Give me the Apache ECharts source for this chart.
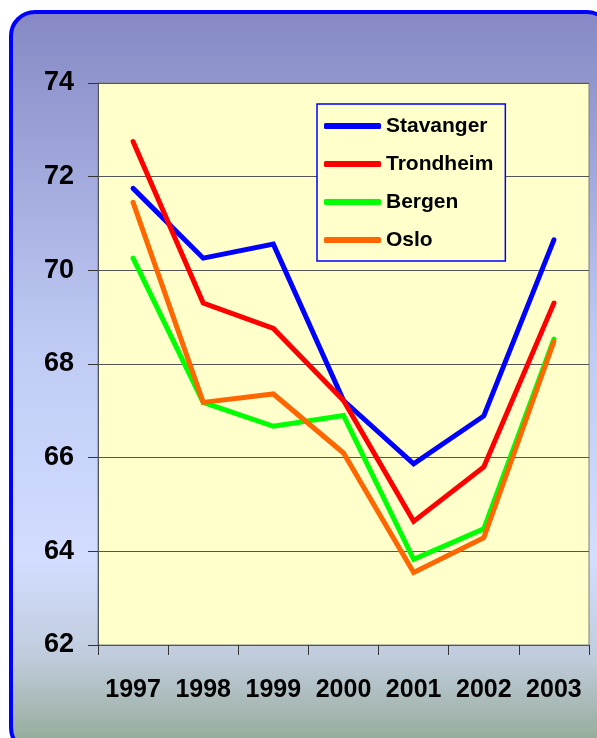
<!DOCTYPE html>
<html>
<head>
<meta charset="utf-8">
<script src="https://cdn.jsdelivr.net/npm/echarts@6/dist/echarts.min.js"></script>
<style>
  html, body { margin: 0; padding: 0; background: #ffffff; }
  #chart { width: 597px; height: 738px; }
</style>
</head>
<body>
<div id="chart"></div>
<script>
// years on x axis
var years = ['1997', '1998', '1999', '2000', '2001', '2002', '2003'];
var cities = ['Stavanger', 'Trondheim', 'Bergen', 'Oslo'];
var colors = ['#0000ff', '#ff0000', '#00ff00', '#ff6600'];

var stavanger = [71.75, 70.26, 70.56, 67.22, 65.87, 66.89, 70.65];
var trondheim = [72.75, 69.3, 68.76, 67.22, 64.64, 65.8, 69.3];
var bergen = [70.26, 67.18, 66.67, 66.9, 63.83, 64.48, 68.53];
var oslo = [71.45, 67.18, 67.36, 66.1, 63.55, 64.29, 68.48];

var yTicks = { min: 62, max: 74, step: 2 };

var font = 'Liberation Sans, Arial, sans-serif';
var myChart = echarts.init(document.getElementById('chart'));

function lineSeries(name, data, color) {
    return {
        name: name,
        type: 'line',
        data: data,
        showSymbol: false,
        symbol: 'none',
        lineStyle: { color: color, width: 5, cap: 'round', join: 'miter' },
        itemStyle: { color: color }
    };
}

myChart.setOption({
    animation: false,
    color: colors,
    graphic: [
        {
            type: 'rect',
            z: -10,
            silent: true,
            shape: { x: 11, y: 12, width: 600, height: 740, r: 24 },
            style: {
                fill: new echarts.graphic.LinearGradient(0, 0, 0, 1, [
                    { offset: 0, color: '#8588c4' },
                    { offset: 0.45, color: '#c0cbf5' },
                    { offset: 0.74, color: '#d2ddff' },
                    { offset: 0.87, color: '#c0ccdc' },
                    { offset: 1, color: '#90a690' }
                ]),
                stroke: '#0000ff',
                lineWidth: 4
            }
        }
    ],
    grid: {
        left: 98,
        right: 8,
        top: 83,
        bottom: 93,
        show: true,
        backgroundColor: '#ffffcc',
        borderColor: '#808080',
        borderWidth: 1
    },
    legend: {
        data: cities,
        orient: 'vertical',
        left: 317,
        top: 104,
        padding: [10, 12, 9, 7],
        backgroundColor: '#ffffcc',
        borderColor: '#0000ff',
        borderWidth: 1.5,
        borderRadius: 0,
        icon: 'roundRect',
        itemWidth: 57,
        itemHeight: 6,
        itemGap: 14,
        textStyle: {
            fontFamily: font,
            fontWeight: 'bold',
            fontSize: 21,
            lineHeight: 24,
            color: '#000000'
        }
    },
    xAxis: {
        type: 'category',
        data: years,
        boundaryGap: true,
        axisLine: { show: true, lineStyle: { color: '#555555', width: 1 } },
        axisTick: { show: true, interval: 0, length: 10, alignWithLabel: false, lineStyle: { color: '#333333' } },
        axisLabel: {
            interval: 0,
            hideOverlap: false,
            margin: 33,
            fontFamily: font,
            fontWeight: 'bold',
            fontSize: 25,
            color: '#000000'
        },
        splitLine: { show: false }
    },
    yAxis: {
        type: 'value',
        min: yTicks.min,
        max: yTicks.max,
        interval: yTicks.step,
        axisLine: { show: true, lineStyle: { color: '#555555', width: 1 } },
        axisTick: { show: true, length: 10, lineStyle: { color: '#333333' } },
        axisLabel: {
            margin: 24,
            padding: [5, 0, 0, 0],
            fontFamily: font,
            fontWeight: 'bold',
            fontSize: 27,
            color: '#000000'
        },
        splitLine: { show: true, lineStyle: { color: '#555555', width: 1 } }
    },
    series: [
        lineSeries(cities[0], stavanger, colors[0]),
        lineSeries(cities[1], trondheim, colors[1]),
        lineSeries(cities[2], bergen, colors[2]),
        lineSeries(cities[3], oslo, colors[3])
    ]
});
</script>
</body>
</html>
